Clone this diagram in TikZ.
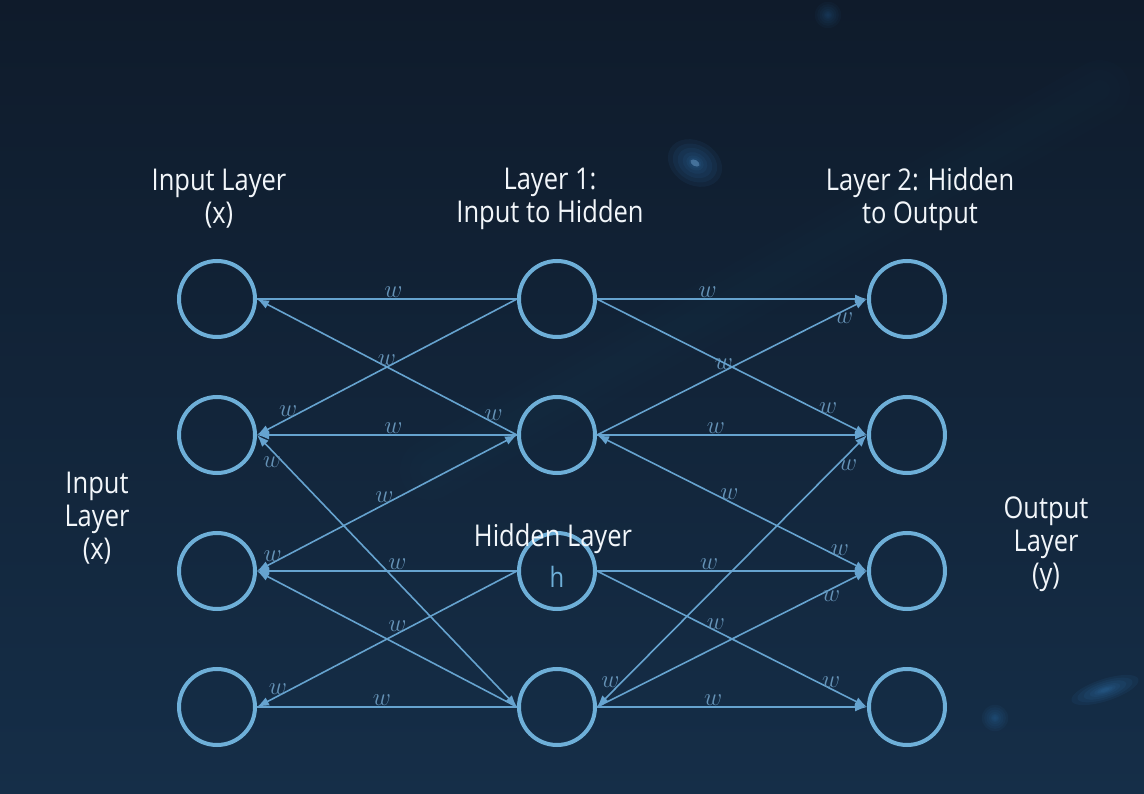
\documentclass[tikz,border=0pt]{standalone}
\usepackage{fontspec}
\usetikzlibrary{arrows.meta}

\newfontfamily\labelfont[FakeStretch=0.85]{Open Sans}

\definecolor{bgtop}{HTML}{0F1B2B}
\definecolor{bgmid}{HTML}{17334F}
\definecolor{bgbot}{HTML}{152E48}
\definecolor{nodeblue}{HTML}{6EAFD8}
\definecolor{edgeblue}{HTML}{66A3CF}
\definecolor{wblue}{HTML}{6592B6}
\definecolor{glowblue}{HTML}{3D8FD8}
\definecolor{capwhite}{HTML}{F2F6FA}

\tikzset{
  neuron/.style={circle, draw=nodeblue, line width=4pt, minimum size=76pt, inner sep=0pt},
  wire/.style={draw=edgeblue, line width=1.6pt},
  wlab/.style={text=wblue, font=\fontsize{24}{24}\selectfont, inner sep=1pt},
  caption/.style={text=capwhite, align=center, font=\labelfont\fontsize{30}{33}\selectfont},
  hmark/.style={text=nodeblue, font=\labelfont\fontsize{28}{28}\selectfont},
  glow/.style={fill=glowblue, opacity=0.07},
  >={Latex[length=12pt,width=9pt]}
}

\begin{document}
\begin{tikzpicture}[x=1pt, y=1pt]
    % Background
    \shade[top color=bgtop, middle color=bgmid, bottom color=bgbot] (0,0) rectangle (1144,-794);
    \useasboundingbox (0,0) rectangle (1144,-794);
    % Soft streak
    \foreach \lw in {60,40,20} {
        \draw[glowblue, opacity=0.012, line width=\lw pt, line cap=round] (430,-470) -- (1100,-90);
    }
    % Glow spots
    \foreach \r in {22,18,14,10,7,5,3} {
        \fill[glow, rotate around={-30:(695,-163)}] (695,-163) ellipse ({\r*1.3} and \r);
        \fill[glow, opacity=0.04] (828,-15) circle ({\r*0.6});
        \fill[glow, rotate around={18:(1105,-690)}] (1105,-690) ellipse ({\r*1.6} and {\r*0.5});
        \fill[glow, opacity=0.05] (995,-718) circle ({\r*0.6});
    }
    \fill[glowblue!60!white, opacity=0.35, rotate around={-30:(695,-163)}] (695,-163) ellipse (5 and 3);
    % Neurons
    \foreach \i/\y in {1/-299, 2/-435, 3/-571, 4/-707} {
        \node[neuron] (in\i) at (217,\y) {};
        \node[neuron] (hid\i) at (557,\y) {};
        \node[neuron] (out\i) at (907,\y) {};
    }
    % Layer 1 wires
    \draw[wire] (hid1.west) -- node[wlab, above, pos=0.475] (w1) {$w$} (in1.east);
    \draw[wire, ->] (hid2.west) -- node[wlab, above, pos=0.09] (w2) {$w$} (in1.east);
    \draw[wire, ->] (hid1.west) -- node[wlab, above, pos=0.5] (w3) {$w$} node[wlab, above, pos=0.88] (w4) {$w$} (in2.east);
    \draw[wire, ->] (hid2.west) -- node[wlab, above, pos=0.475] (w5) {$w$} (in2.east);
    \draw[wire, <->] (in2.east) -- node[wlab, left, pos=0.1] (w6) {$w$} (hid4.west);
    \draw[wire, <->] (in3.east) -- node[wlab, above, pos=0.06] (w7) {$w$} node[wlab, above, pos=0.49] (w8) {$w$} (hid2.west);
    \draw[wire, ->] (hid3.west) -- node[wlab, above, pos=0.46] (w9) {$w$} (in3.east);
    \draw[wire, ->] (hid4.west) -- (in3.east);
    \draw[wire, ->] (hid3.west) -- node[wlab, above, pos=0.46] (w10) {$w$} node[wlab, above, pos=0.92] (w11) {$w$} (in4.east);
    \draw[wire] (hid4.west) -- node[wlab, above, pos=0.52] (w12) {$w$} (in4.east);
    % Layer 2 wires
    \draw[wire, ->] (hid1.east) -- node[wlab, above, pos=0.41] (w13) {$w$} (out1.west);
    \draw[wire, ->] (hid2.east) -- node[wlab, above, pos=0.47] (w14) {$w$} node[wlab, below, pos=0.915] (w15) {$w$} (out1.west);
    \draw[wire, ->] (hid1.east) -- node[wlab, above, pos=0.856] (w16) {$w$} (out2.west);
    \draw[wire, ->] (hid2.east) -- node[wlab, above, pos=0.44] (w17) {$w$} (out2.west);
    \draw[wire, <->] (hid4.east) -- node[wlab, left, pos=0.09] (w18) {$w$} node[wlab, right, pos=0.89] (w19) {$w$} (out2.west);
    \draw[wire, <->] (hid2.east) -- node[wlab, above, pos=0.49] (w20) {$w$} node[wlab, above, pos=0.9] (w21) {$w$} (out3.west);
    \draw[wire, ->] (hid3.east) -- node[wlab, above, pos=0.415] (w22) {$w$} (out3.west);
    \draw[wire, ->] (hid4.east) -- node[wlab, below, pos=0.867] (w23) {$w$} (out3.west);
    \draw[wire, ->] (hid3.east) -- node[wlab, above, pos=0.44] (w24) {$w$} node[wlab, above, pos=0.867] (w25) {$w$} (out4.west);
    \draw[wire, ->] (hid4.east) -- node[wlab, above, pos=0.43] (w26) {$w$} (out4.west);
    % Captions
    \node[caption] (capin) at (219,-199) {Input Layer\\(x)};
    \node[caption] (caphid) at (550,-199) {Layer 1:\\Input to Hidden};
    \node[caption] (capout) at (920,-199) {Layer 2: Hidden\\to Output};
    \node[caption] (sidein) at (97,-518) {Input\\Layer\\(x)};
    \node[caption] (sideout) at (1046,-544) {Output\\Layer\\(y)};
    \node[caption] (hidlab) at (553,-539) {Hidden Layer};
    \node[hmark] (hlab) at (557,-577) {h};
\end{tikzpicture}
\end{document}
